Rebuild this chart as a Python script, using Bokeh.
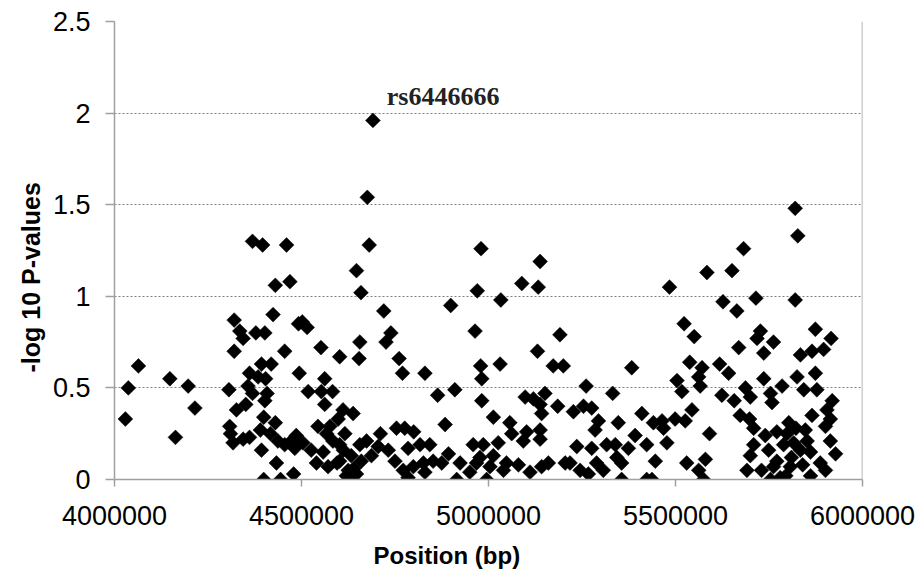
import numpy as np
from bokeh.plotting import figure
from bokeh.models import ColumnDataSource, FixedTicker, Span, Title
from bokeh.core.properties import value
from bokeh.embed import file_html
from bokeh.resources import INLINE

# SNP positions (kb) and -log10 P-values
pos_kb = [
    4029, 4037, 4064, 4148, 4163, 4197, 4215,
    4306, 4320, 4335, 4344, 4378, 4402, 4320, 4424, 4430, 4469, 4455, 4492,
    4393, 4419, 4361, 4384, 4404, 4357, 4369, 4408, 4402, 4326, 4351, 4308, 4310, 4317, 4344, 4361,
    4399, 4430, 4390, 4417, 4437, 4393, 4455, 4473, 4482, 4433, 4399, 4444, 4479, 4494,
    4369, 4396, 4460,
    4647, 4659, 4720, 4899, 4502, 4515, 4739, 4726, 4656, 4552, 4602, 4654, 4761, 4770, 4830,
    4562, 4518, 4553, 4583, 4562, 4864, 4910, 4884, 4611, 4638, 4598, 4576, 4544, 4616, 4567,
    4584, 4602, 4486, 4504, 4526, 4558, 4540, 4571, 4602, 4625, 4647, 4629, 4656, 4674, 4705,
    4711, 4732, 4687, 4754, 4776, 4800, 4785, 4817, 4843, 4750, 4772, 4799, 4826, 4852, 4830,
    4875, 4893, 4924, 4915, 4785,
    4691, 4681, 4676,
    4980, 5138, 5089, 5133, 4970, 5033, 5484, 4964, 5191, 5131, 4979, 5031, 5173, 5200, 5383,
    4982, 5261, 5332, 4982, 5098, 5120, 5151, 5138, 5142, 5185, 5227, 5254, 5276, 5013, 5057,
    5062, 5102, 5093, 5138, 5138, 5294, 5285, 5347, 5410, 5441, 5464, 5468, 5392, 4959, 4986,
    5026, 5236, 5276, 5316, 5339, 5374, 5423, 5477, 4977, 5013, 5048, 5080, 5111, 5142, 5160,
    5205, 5218, 5245, 5267, 5289, 5307, 5343, 5356, 5356, 5423, 5437, 5446, 4995, 4950, 4968,
    5004, 5040,
    5820, 5827, 5682, 5651, 5584,
    5627, 5664, 5715, 5820, 5523, 5550, 5669, 5727, 5718, 5762, 5736, 5874, 5916, 5834, 5865,
    5896, 5538, 5571, 5618, 5642, 5504, 5562, 5566, 5517, 5687, 5700, 5736, 5754, 5785, 5825,
    5874, 5843, 5878, 5624, 5657, 5758, 5919, 5544, 5526, 5499, 5673, 5698, 5709, 5865, 5905,
    5914, 5901, 5591, 5740, 5771, 5798, 5847, 5914, 5709, 5749, 5789, 5816, 5834, 5861, 5928,
    5700, 5530, 5580, 5562, 5575, 5691, 5771, 5807, 5887, 5754, 5780, 5861, 5901,
    4620, 4640, 4660, 4633, 4612, 4595, 5795, 5810, 5840, 5762, 5822, 5803, 5852, 5730,
]
neglog10_p = [
    0.33, 0.50, 0.62, 0.55, 0.23, 0.51, 0.39,
    0.49, 0.87, 0.81, 0.77, 0.80, 0.80, 0.70, 0.90, 1.06, 1.08, 0.70, 0.85,
    0.63, 0.63, 0.58, 0.56, 0.55, 0.51, 0.47, 0.47, 0.43, 0.38, 0.41, 0.29, 0.25, 0.20, 0.22, 0.23,
    0.34, 0.31, 0.27, 0.25, 0.21, 0.16, 0.19, 0.21, 0.17, 0.09, 0.00, 0.00, 0.03, 0.58,
    1.30, 1.28, 1.28,
    1.14, 1.02, 0.92, 0.95, 0.86, 0.83, 0.80, 0.75, 0.75, 0.72, 0.67, 0.66, 0.66, 0.58, 0.58,
    0.55, 0.48, 0.48, 0.48, 0.41, 0.46, 0.49, 0.30, 0.38, 0.36, 0.33, 0.29, 0.29, 0.25, 0.25,
    0.21, 0.19, 0.24, 0.20, 0.16, 0.15, 0.09, 0.07, 0.10, 0.05, 0.03, 0.00, 0.19, 0.21, 0.18,
    0.25, 0.16, 0.13, 0.28, 0.28, 0.26, 0.17, 0.19, 0.19, 0.10, 0.05, 0.07, 0.09, 0.10, 0.04,
    0.09, 0.14, 0.09, 0.00, 0.01,
    1.96, 1.28, 1.54,
    1.26, 1.19, 1.07, 1.05, 1.03, 0.98, 1.05, 0.81, 0.79, 0.70, 0.62, 0.63, 0.62, 0.62, 0.61,
    0.55, 0.51, 0.47, 0.43, 0.45, 0.44, 0.47, 0.41, 0.36, 0.40, 0.37, 0.40, 0.39, 0.34, 0.31,
    0.25, 0.26, 0.21, 0.27, 0.22, 0.32, 0.27, 0.31, 0.36, 0.31, 0.32, 0.28, 0.24, 0.19, 0.19,
    0.20, 0.18, 0.17, 0.19, 0.19, 0.17, 0.19, 0.20, 0.12, 0.13, 0.09, 0.08, 0.04, 0.07, 0.09,
    0.09, 0.09, 0.05, 0.03, 0.09, 0.05, 0.12, 0.09, 0.00, 0.00, 0.00, 0.10, 0.00, 0.04, 0.09,
    0.07, 0.05,
    1.48, 1.33, 1.26, 1.14, 1.13,
    0.97, 0.92, 0.99, 0.98, 0.85, 0.78, 0.72, 0.81, 0.77, 0.75, 0.69, 0.82, 0.77, 0.68, 0.70,
    0.71, 0.64, 0.61, 0.63, 0.58, 0.54, 0.56, 0.51, 0.48, 0.50, 0.45, 0.55, 0.47, 0.51, 0.56,
    0.58, 0.49, 0.49, 0.46, 0.43, 0.42, 0.43, 0.38, 0.32, 0.33, 0.35, 0.33, 0.28, 0.35, 0.38,
    0.33, 0.29, 0.25, 0.24, 0.26, 0.25, 0.27, 0.21, 0.19, 0.16, 0.19, 0.20, 0.16, 0.15, 0.14,
    0.13, 0.09, 0.11, 0.05, 0.00, 0.05, 0.10, 0.07, 0.09, 0.00, 0.01, 0.02, 0.05,
    0.02, 0.06, 0.10, 0.13, 0.16, 0.09, 0.02, 0.12, 0.08, 0.07, 0.28, 0.31, 0.21, 0.05,
]

x_ticks = [4000000, 4500000, 5000000, 5500000, 6000000]
x_tick_labels = ["4000000", "4500000", "5000000", "5500000", "6000000"]
y_ticks = [0, 0.5, 1, 1.5, 2, 2.5]
y_tick_labels = ["0", "0.5", "1", "1.5", "2", "2.5"]
y_grid_ticks = [0.5, 1, 1.5, 2]

snp_label = "rs6446666"
snp_label_pos = 4728000
snp_label_val = 2.09

x_title = "Position (bp)"
y_title = "-log 10 P-values"

positions = [k * 1000 for k in pos_kb]
src = ColumnDataSource(data=dict(x=positions, y=neglog10_p))

p = figure(width=923, height=580, output_backend="svg", toolbar_location=None,
           x_range=(4000000, 6000000), y_range=(0, 2.5),
           min_border_left=114, min_border_right=61, min_border_top=21, min_border_bottom=101)
p.background_fill_color = "white"
p.border_fill_color = "white"
p.outline_line_color = None

p.scatter("x", "y", source=src, marker="square", angle=np.pi / 4, size=10.5,
          fill_color="black", line_color="black", line_width=0.5)

axis_col = "#a0a0a0"
for ax in (p.xaxis[0], p.yaxis[0]):
    ax.axis_line_color = axis_col
    ax.axis_line_width = 1.5
    ax.major_tick_line_color = axis_col
    ax.major_tick_line_width = 1.5
    ax.minor_tick_line_color = None
    ax.major_tick_in = 0
    ax.major_label_text_font = "Liberation Sans"
    ax.major_label_text_color = "black"
    ax.major_label_text_font_size = "27px"

p.xaxis.ticker = FixedTicker(ticks=x_ticks)
p.xaxis.major_label_overrides = dict(zip(x_ticks, x_tick_labels))
p.xaxis.major_tick_out = 7
p.xaxis.major_label_standoff = 19

p.yaxis.ticker = FixedTicker(ticks=y_ticks)
p.yaxis.major_label_overrides = dict(zip(y_ticks, y_tick_labels))
p.yaxis.major_tick_out = 9
p.yaxis.major_label_standoff = 15

p.xgrid.visible = False
p.ygrid.ticker = FixedTicker(ticks=y_grid_ticks)
p.ygrid.grid_line_color = "#808080"
p.ygrid.grid_line_dash = "2 2"
p.ygrid.grid_line_width = 1

p.add_layout(Span(location=6000000, dimension="height", line_color=axis_col, line_width=1.5))

p.text(x=[snp_label_pos], y=[snp_label_val], text=[snp_label],
       text_font=value("Liberation Serif"), text_font_style="bold",
       text_font_size="26px", text_color="#222222",
       text_align="left", text_baseline="alphabetic")

p.add_layout(Title(text=x_title, align="left", offset=259, standoff=24,
                   text_font="Liberation Sans", text_font_style="bold",
                   text_font_size="24px", text_color="black"), "below")
p.add_layout(Title(text=y_title, align="left", offset=107, standoff=10,
                   text_font="Liberation Sans", text_font_style="bold",
                   text_font_size="25px", text_color="black"), "left")

open("out.html", "w").write(file_html(p, INLINE))
